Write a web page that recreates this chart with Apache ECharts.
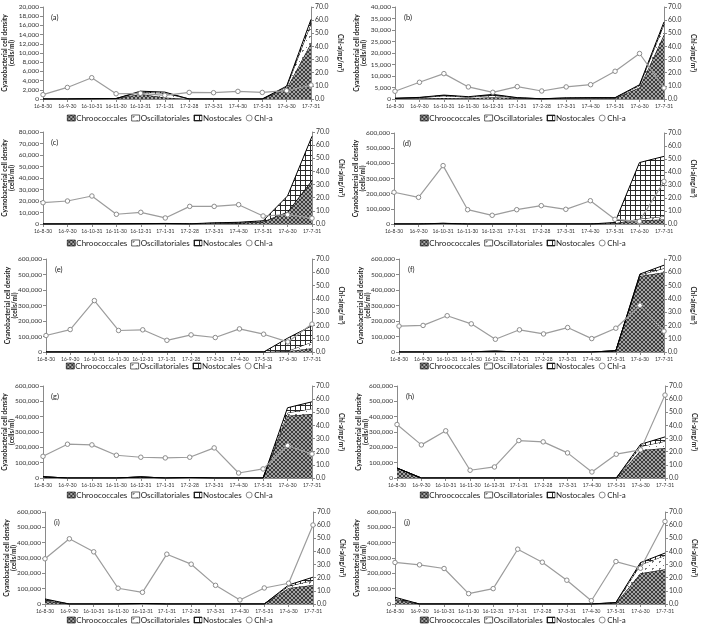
<!DOCTYPE html>
<html><head><meta charset="utf-8">
<script src="https://cdn.jsdelivr.net/npm/echarts@6/dist/echarts.min.js"></script>
<style>html,body{margin:0;padding:0;background:#fff}#c{width:703px;height:627px}</style>
</head><body><div id="c"></div>
<script>
// ---- data ----
const categories = ['16-8-30','16-9-30','16-10-31','16-11-30','16-12-31','17-1-31','17-2-28','17-3-31','17-4-30','17-5-31','17-6-30','17-7-31'];
const seriesNames = ['Chroococcales','Oscillatoriales','Nostocales','Chl-a'];
const panelLabels = ['(a)','(b)','(c)','(d)','(e)','(f)','(g)','(h)','(i)','(j)'];
const leftMax = [20000,40000,80000,600000,600000,600000,600000,600000,600000,600000];
const leftStep = [2000,5000,10000,100000,100000,100000,100000,100000,100000,100000];
const rightMax = 70, rightStep = 10;

const chroA = [0,0,50,100,1100,300,0,0,0,0,2300,12200];
const oscA  = [0,0,0,0,400,1000,0,0,0,0,300,4200];
const nosA  = [0,0,0,0,200,200,0,0,0,0,200,900];
const chlA  = [3.3,8.8,16.2,4.0,4.3,2.8,5.0,4.8,5.8,5.0,6.3,10.6];

const chroB = [200,300,400,300,800,300,50,200,300,300,5000,28000];
const oscB  = [100,300,1000,500,800,200,50,200,200,200,800,4500];
const nosB  = [0,100,300,200,400,100,0,100,100,100,400,1000];
const chlB  = [5.9,12.7,19.3,9.2,5.1,9.4,6.1,9.2,10.9,21.1,34.6,8.4];

const chroC = [0,0,100,100,200,300,100,500,800,1800,10400,37700];
const oscC  = [0,0,0,0,0,100,0,200,300,300,300,500];
const nosC  = [0,0,0,0,100,100,100,300,400,700,13700,38100];
const chlC  = [16.2,17.5,21.3,7.4,8.9,4.6,13.4,13.4,14.7,6.1,7.1,4.4];

const chroD = [0,0,3000,0,0,0,0,0,0,3000,25000,30000];
const oscD  = [0,0,1000,0,0,0,0,0,0,2000,10000,20000];
const nosD  = [0,0,1000,0,0,0,0,0,0,5000,370000,396000];
const chlD  = [24.4,20.5,44.9,11.0,6.7,11.0,14.1,11.3,17.9,3.6,2.0,32.8];

const chroE = [0,0,0,0,0,0,0,0,0,0,5000,25000];
const oscE  = [0,0,0,0,0,0,0,0,0,0,2000,40000];
const nosE  = [0,0,0,0,0,0,0,0,0,0,83000,105000];
const chlE  = [12.4,16.9,38.7,16.2,16.7,8.8,12.9,10.9,17.4,13.4,7.6,21.0];

const chroF = [0,0,0,2000,5000,1000,0,0,0,8000,490000,515000];
const oscF  = [0,0,0,0,0,0,0,0,0,0,8000,25000];
const nosF  = [0,0,0,0,0,0,0,0,0,0,5000,20000];
const chlF  = [19.5,20.0,27.3,21.2,9.6,16.7,13.6,18.4,10.1,17.9,35.1,15.7];

const chroG = [8000,0,0,0,7000,0,3000,0,0,0,406000,417000];
const oscG  = [0,0,0,0,0,0,0,0,0,0,20000,35000];
const nosG  = [0,0,0,0,0,0,0,0,0,0,32000,45000];
const chlG  = [16.5,25.7,25.2,17.3,15.8,15.3,15.8,22.9,3.8,6.9,24.7,18.3];

const chroH = [65000,0,0,0,0,0,0,0,0,0,181000,196000];
const oscH  = [0,0,0,0,0,0,0,0,0,0,25000,44000];
const nosH  = [0,0,0,0,0,0,0,0,0,0,14000,28000];
const chlH  = [40.7,25.2,35.9,5.9,8.4,28.5,27.5,19.1,4.6,18.1,21.4,63.1];

const chroI = [20000,0,0,0,3000,0,0,0,0,0,105000,124000];
const oscI  = [5000,0,0,0,0,0,0,0,0,0,12000,30000];
const nosI  = [8000,0,0,0,0,0,0,0,0,0,7000,21000];
const chlI  = [34.4,49.6,39.7,12.0,8.9,37.9,30.3,14.2,3.1,12.2,15.8,60.1];

const chroJ = [30000,0,0,0,0,0,0,0,0,5000,200000,227000];
const oscJ  = [5000,0,0,0,0,0,0,0,0,3000,55000,90000];
const nosJ  = [9000,0,0,0,0,0,0,0,0,2000,15000,15000];
const chlJ  = [31.6,29.8,27.0,7.9,11.7,41.7,31.8,18.1,2.5,32.3,27.2,62.8];

const chroAll = [chroA,chroB,chroC,chroD,chroE,chroF,chroG,chroH,chroI,chroJ];
const oscAll  = [oscA,oscB,oscC,oscD,oscE,oscF,oscG,oscH,oscI,oscJ];
const nosAll  = [nosA,nosB,nosC,nosD,nosE,nosF,nosG,nosH,nosI,nosJ];
const chlAll  = [chlA,chlB,chlC,chlD,chlE,chlF,chlG,chlH,chlI,chlJ];

// ---- layout (plot boxes: left, top, right, bottom) ----
const boxes = [
  [42,7,311,99],[395,7,664,99],
  [42,132,312,224],[394,133,664,224],
  [46,259,312,352],[399,259,664,352],
  [42,386,312,478],[397,386,665,478],
  [45,512,313,604],[395,512,665,604]
];
const legendPos = [[67,114],[420,114],[67,239],[420,239],[66,362],[420,362],[67,491],[420,491],[67,616],[420,616]];

// ---- patterns ----
function pat(w,h,draw){const c=document.createElement('canvas');c.width=w;c.height=h;const x=c.getContext('2d');draw(x);return {image:c,repeat:'repeat'};}
const patChro = pat(4,4,x=>{x.fillStyle='#a4a4a4';x.fillRect(0,0,4,4);x.fillStyle='#3c3c3c';
  [[0,0],[1,1],[2,2],[3,3],[3,0],[2,1],[1,2],[0,3]].forEach(p=>x.fillRect(p[0],p[1],1,1));});
const patOsc = pat(7,7,x=>{x.fillStyle='#ffffff';x.fillRect(0,0,7,7);x.fillStyle='#7a7a7a';
  x.fillRect(1,1,2,1);x.fillRect(1,2,1,1);x.fillRect(5,5,1,1);});
const patNos = pat(5,5,x=>{x.fillStyle='#ffffff';x.fillRect(0,0,5,5);x.fillStyle='#2a2a2a';
  x.fillRect(0,0,5,1);x.fillRect(0,0,1,5);});
const fills = [patChro, patOsc, patNos];

const FONT = 'Lato, "Open Sans", sans-serif';
const grid=[],xAxis=[],yAxis=[],series=[],legend=[],title=[];
for(let i=0;i<10;i++){
  const b=boxes[i];
  grid.push({left:b[0],top:b[1],width:b[2]-b[0],height:b[3]-b[1]});
  xAxis.push({type:'category',gridIndex:i,data:categories,boundaryGap:false,
    axisLine:{lineStyle:{color:'#8a8a8a',width:1}},
    axisTick:{show:true,length:3,lineStyle:{color:'#8a8a8a'}},
    axisLabel:{fontSize:5,color:'#333',margin:5,fontFamily:FONT,interval:0,hideOverlap:false},splitLine:{show:false}});
  yAxis.push({type:'value',gridIndex:i,min:0,max:leftMax[i],interval:leftStep[i],position:'left',
    name:'Cyanobacterial cell density\n(cells/ml)',nameLocation:'middle',nameGap:27,nameRotate:90,nameMoveOverlap:false,
    nameTextStyle:{fontSize:6.5,fontWeight:'bold',color:'#222',lineHeight:7.5,fontFamily:FONT},
    axisLine:{show:true,lineStyle:{color:'#8a8a8a'}},axisTick:{show:true,length:3,lineStyle:{color:'#8a8a8a'}},
    axisLabel:{fontSize:6.5,color:'#333',margin:4,fontFamily:FONT,formatter:v=>v.toLocaleString('en-US')},
    splitLine:{show:false}});
  yAxis.push({type:'value',gridIndex:i,min:0,max:rightMax,interval:rightStep,position:'right',
    name:'Chl-a(mg/m³)',nameLocation:'middle',nameGap:26,nameRotate:-90,nameMoveOverlap:false,
    nameTextStyle:{fontSize:6.5,fontWeight:'bold',color:'#222',fontFamily:FONT},
    axisLine:{show:true,lineStyle:{color:'#8a8a8a'}},axisTick:{show:true,length:3,lineStyle:{color:'#8a8a8a'}},
    axisLabel:{fontSize:6.8,color:'#333',margin:4,fontFamily:FONT,formatter:v=>v.toFixed(1)},
    splitLine:{show:false}});
  const stacks=[chroAll[i],oscAll[i],nosAll[i]];
  for(let k=0;k<3;k++){
    series.push({type:'line',name:seriesNames[k],xAxisIndex:i,yAxisIndex:2*i,stack:'s'+i,data:stacks[k],
      symbol:'none',lineStyle:{color:'#000',width:1},areaStyle:{color:fills[k],opacity:1},
      itemStyle:{color:fills[k]},z:2+k});
  }
  series.push({type:'line',name:'Chl-a',xAxisIndex:i,yAxisIndex:2*i+1,data:chlAll[i],
    symbol:'circle',symbolSize:4.5,lineStyle:{color:'#9c9c9c',width:1.2},
    itemStyle:{color:'#fff',borderColor:'#8c8c8c',borderWidth:1},z:6});
  legend.push({left:legendPos[i][0],top:legendPos[i][1],padding:0,itemWidth:8,itemHeight:6,itemGap:4,selectedMode:false,
    textStyle:{fontSize:8,color:'#222',fontFamily:FONT,padding:[0,0,0,-4]},
    data:[
      {name:'Chroococcales',icon:'rect',itemStyle:{color:patChro,borderColor:'#000',borderWidth:0.6}},
      {name:'Oscillatoriales',icon:'rect',itemStyle:{color:patOsc,borderColor:'#000',borderWidth:0.6}},
      {name:'Nostocales',icon:'rect',itemStyle:{color:patNos,borderColor:'#000',borderWidth:0.6}},
      {name:'Chl-a',icon:'circle',itemStyle:{color:'#fff',borderColor:'#8c8c8c',borderWidth:1}}
    ]});
  title.push({text:panelLabels[i],left:b[0]+4,top:b[1]+2,textStyle:{fontSize:7.5,fontWeight:'normal',color:'#222',fontFamily:FONT}});
}
const chart=echarts.init(document.getElementById('c'),null,{renderer:'canvas'});
chart.setOption({animation:false,backgroundColor:'#fff',grid,xAxis,yAxis,series,legend,title});
</script></body></html>
